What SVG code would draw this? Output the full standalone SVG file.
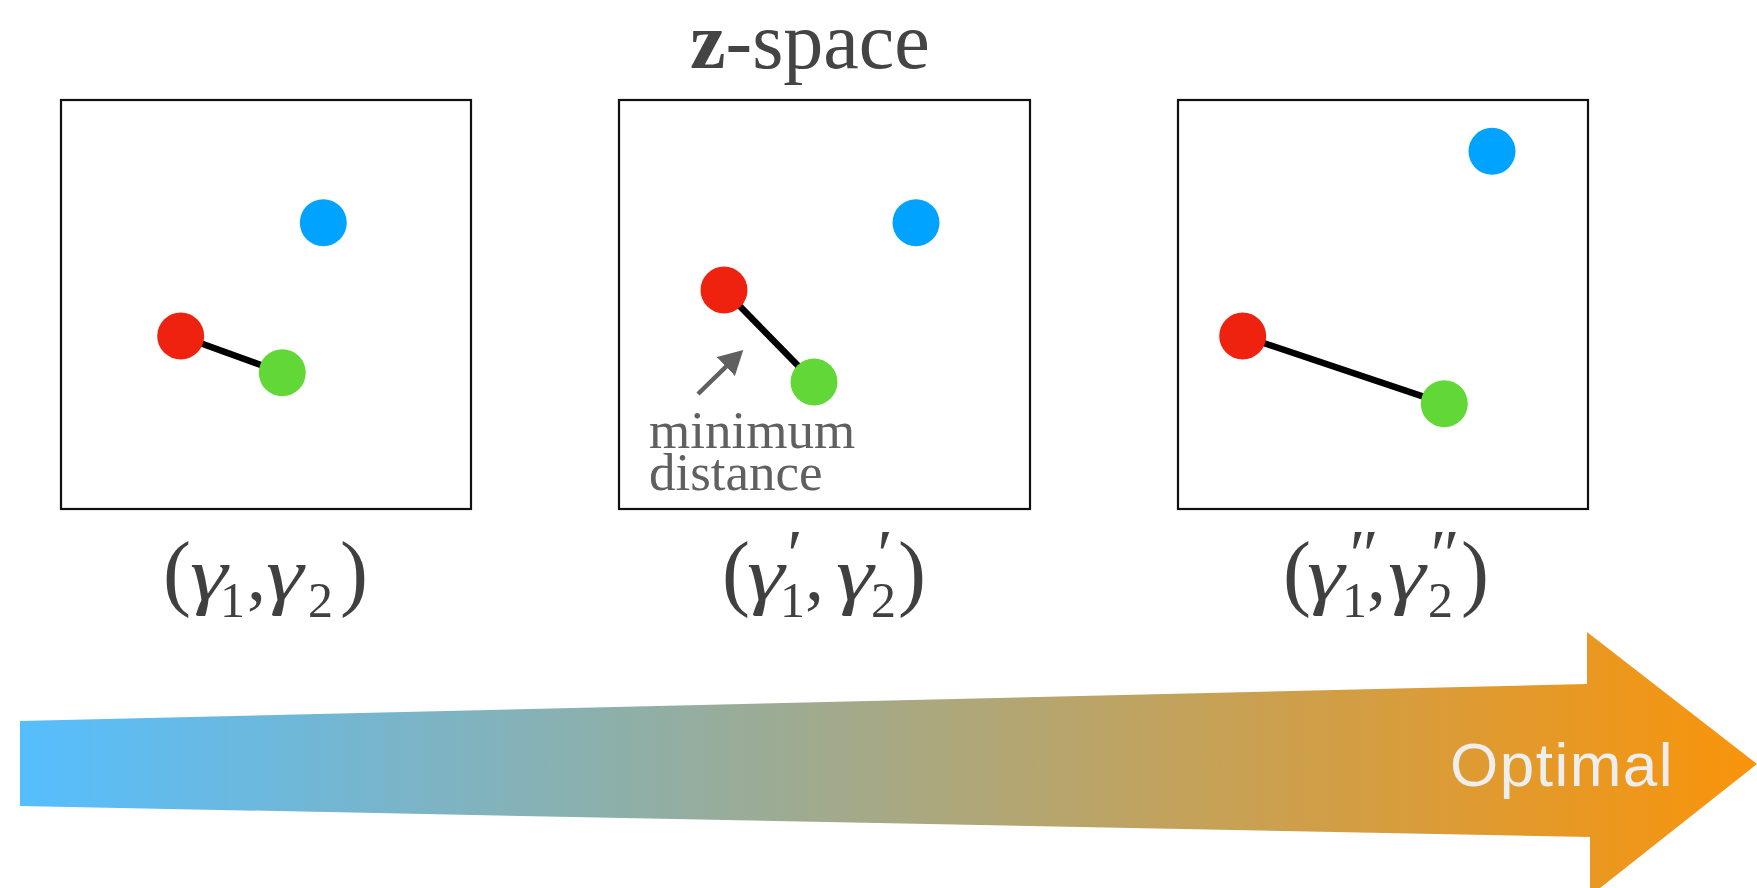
<svg xmlns="http://www.w3.org/2000/svg" width="1757" height="888" viewBox="0 0 1757 888">
<defs>
<linearGradient id="grad" gradientUnits="userSpaceOnUse" x1="20" y1="0" x2="1757" y2="0">
<stop offset="0" stop-color="#55BEFE"/>
<stop offset="1" stop-color="#F9940A"/>
</linearGradient>
<marker id="head" viewBox="0 0 24 26" refX="24" refY="13" markerWidth="24" markerHeight="26" markerUnits="userSpaceOnUse" orient="auto">
<path d="M0,0 L24,13 L0,26 z" fill="#606060"/>
</marker>
<style>
.box{fill:#fff;stroke:#111;stroke-width:2.2}
.link{stroke:#000;stroke-width:6.5}
.red{fill:#EE220F}
.green{fill:#62D838}
.blue{fill:#00A3FF}
.lbl{font-family:"Liberation Serif","Times New Roman",serif;fill:#404040}
.g{font-family:"Liberation Serif","Times New Roman",serif;fill:#404040;font-style:italic;font-size:76px}
.par{font-size:84px}
.main{font-size:76px}
.sub{font-size:50px}
.pr{font-size:70px;font-style:italic}
</style>
</defs>
<rect width="1757" height="888" fill="#fff"/>

<g id="title">
<text x="690" y="68" font-family="'Liberation Serif','Times New Roman',serif" font-size="80" fill="#444"><tspan font-weight="bold">z</tspan>-space</text>
</g>

<g id="optimal-arrow">
<polygon points="20,721 1587,684 1587,632 1757,764 1590,896 1590,837 20,806" fill="url(#grad)"/>
<text x="1450" y="786" font-family="'Liberation Sans',Arial,sans-serif" font-size="62" letter-spacing="1.5" fill="#EEEEEE">Optimal</text>
</g>

<g id="panel1">
<rect class="box" x="61" y="100" width="410" height="409"/>
<line class="link" x1="180.7" y1="336" x2="282.3" y2="372.7"/>
<circle class="blue" cx="323.3" cy="222.7" r="23.5"/>
<circle class="red" cx="180.7" cy="336" r="23.5"/>
<circle class="green" cx="282.3" cy="372.7" r="23.5"/>
</g>

<g id="panel2">
<rect class="box" x="619" y="100" width="411" height="409"/>
<line class="link" x1="724" y1="290" x2="814" y2="382"/>
<circle class="blue" cx="916" cy="222.7" r="23.5"/>
<circle class="red" cx="724" cy="290" r="23.5"/>
<circle class="green" cx="814" cy="382" r="23.5"/>
<text font-family="'Liberation Serif','Times New Roman',serif" font-size="53" fill="#606060"><tspan x="649" y="448">minimum</tspan><tspan x="649" y="490">distance</tspan></text>
</g>

<g id="panel3">
<rect class="box" x="1178" y="100" width="410" height="409"/>
<line class="link" x1="1242.7" y1="336" x2="1444.3" y2="403.7"/>
<circle class="blue" cx="1492" cy="151.3" r="23.5"/>
<circle class="red" cx="1242.7" cy="336" r="23.5"/>
<circle class="green" cx="1444.3" cy="403.7" r="23.5"/>
</g>

<g id="connectors">
<line x1="698" y1="394" x2="733" y2="359.8" stroke="#606060" stroke-width="4.5"/>
<line x1="733" y1="359.8" x2="743.3" y2="350" stroke="none" marker-end="url(#head)"/>
</g>

<g id="label1">
<text class="lbl"><tspan class="par" x="163" y="600">(</tspan><tspan class="sub" x="220" y="617">1</tspan><tspan class="main" x="247" y="600">,</tspan><tspan class="sub" x="308" y="617">2</tspan><tspan class="par" x="340" y="600">)</tspan></text>
<text class="g" transform="translate(190,600) scale(1.25,1)">γ</text>
<text class="g" transform="translate(266,600) scale(1.25,1)">γ</text>
</g>

<g id="label2">
<text class="lbl"><tspan class="par" x="722" y="600">(</tspan><tspan class="pr" x="783" y="578">′</tspan><tspan class="sub" x="780" y="617">1</tspan><tspan class="main" x="805" y="600">,</tspan><tspan class="pr" x="873" y="578">′</tspan><tspan class="sub" x="871" y="617">2</tspan><tspan class="par" x="898" y="600">)</tspan></text>
<text class="g" transform="translate(747,600) scale(1.25,1)">γ</text>
<text class="g" transform="translate(836,600) scale(1.25,1)">γ</text>
</g>

<g id="label3">
<text class="lbl"><tspan class="par" x="1283" y="600">(</tspan><tspan class="pr" x="1345" y="578">″</tspan><tspan class="sub" x="1342" y="617">1</tspan><tspan class="main" x="1367" y="600">,</tspan><tspan class="pr" x="1426" y="578">″</tspan><tspan class="sub" x="1428" y="617">2</tspan><tspan class="par" x="1461" y="600">)</tspan></text>
<text class="g" transform="translate(1307,600) scale(1.25,1)">γ</text>
<text class="g" transform="translate(1388,600) scale(1.25,1)">γ</text>
</g>
</svg>
